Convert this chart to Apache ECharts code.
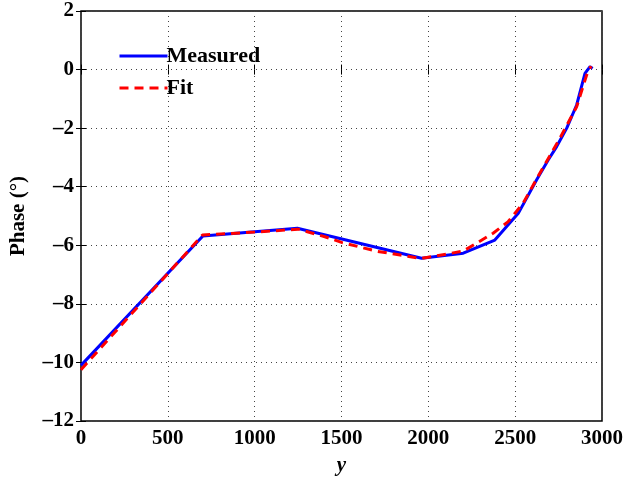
<!DOCTYPE html>
<html>
<head>
<meta charset="utf-8">
<script src="https://cdn.jsdelivr.net/npm/echarts@6/dist/echarts.min.js"></script>
<style>
  html, body { margin: 0; padding: 0; background: #fff; }
  #chart { width: 627px; height: 483px; }
</style>
</head>
<body>
<div id="chart"></div>
<script>
// values
var measuredX = [0, 702, 1246, 1961, 2201, 2383, 2518, 2623, 2691, 2739, 2797, 2854, 2902, 2931, 2946]
var measuredY = [-10.1, -5.68, -5.42, -6.44, -6.27, -5.82, -4.91, -3.77, -3.08, -2.63, -2.0, -1.21, -0.13, 0.1, 0.04]
var fitX = [0, 700, 1000, 1250, 1400, 1500, 1700, 1960, 2201, 2373, 2460, 2546, 2642, 2758, 2854, 2912, 2937]
var fitY = [-10.25, -5.65, -5.55, -5.45, -5.7, -5.9, -6.2, -6.45, -6.2, -5.59, -5.19, -4.56, -3.54, -2.34, -1.27, -0.18, 0.12]

var font = 'Liberation Serif'

function pairs (xs, ys) {
  return xs.map(function (x, i) { return [x, ys[i]] })
}
function minus (v) {
  return String(v).replace('-', '\u2013')
}

var chart = echarts.init(document.getElementById('chart'))
var option = {
  animation: false,
  backgroundColor: '#fff',
  grid: {
    left: 81, right: 25, top: 11, bottom: 62,
    show: true, borderColor: '#000', borderWidth: 1.5
  },
  legend: {
    orient: 'vertical',
    left: 113,
    top: 40,
    itemWidth: 48,
    itemHeight: 14,
    itemGap: 10,
    itemStyle: { opacity: 0 },
    lineStyle: { width: 3 },
    textStyle: { fontFamily: font, fontWeight: 'bold', fontSize: 22, color: '#000', padding: [0, 0, 0, -6] },
    data: ['Measured', 'Fit']
  },
  xAxis: [{
    type: 'value',
    min: 0, max: 3000, interval: 500,
    name: 'y',
    nameLocation: 'middle',
    nameGap: 34,
    nameTextStyle: { fontFamily: font, fontWeight: 'bold', fontStyle: 'italic', fontSize: 21, color: '#000' },
    axisLine: { show: false },
    axisTick: { inside: true, length: 5, lineStyle: { color: '#000' } },
    axisLabel: { fontFamily: font, fontWeight: 'bold', fontSize: 21, color: '#000', margin: 7, formatter: function (v) { return String(v) } },
    splitLine: { show: true, lineStyle: { color: '#444', type: [1, 4], width: 1 } }
  }, {
    type: 'value',
    position: 'top',
    min: 0, max: 3000, interval: 500,
    axisLine: { show: false },
    axisTick: { inside: true, length: 5, lineStyle: { color: '#000' } },
    axisLabel: { show: false },
    splitLine: { show: false }
  }],
  yAxis: [{
    type: 'value',
    min: -12, max: 2, interval: 2,
    name: 'Phase (\u00b0)',
    nameLocation: 'middle',
    nameRotate: 90,
    nameGap: 52,
    nameTextStyle: { fontFamily: font, fontWeight: 'bold', fontSize: 21, color: '#000' },
    axisLine: { show: false },
    axisTick: { inside: true, length: 5, lineStyle: { color: '#000' } },
    axisLabel: { fontFamily: font, fontWeight: 'bold', fontSize: 21, color: '#000', margin: 7, formatter: minus },
    splitLine: { show: true, lineStyle: { color: '#444', type: [1, 4], width: 1 } }
  }, {
    type: 'value',
    position: 'right',
    min: -12, max: 2, interval: 2,
    axisLine: { show: false },
    axisTick: { inside: true, length: 5, lineStyle: { color: '#000' } },
    axisLabel: { show: false },
    splitLine: { show: false }
  }],
  series: [{
    name: 'Measured',
    type: 'line',
    symbol: 'none',
    lineStyle: { color: '#0000ff', width: 3 },
    itemStyle: { color: '#0000ff' },
    data: pairs(measuredX, measuredY)
  }, {
    name: 'Fit',
    type: 'line',
    symbol: 'none',
    lineStyle: { color: '#ff0000', width: 3, type: [9, 6] },
    itemStyle: { color: '#ff0000' },
    data: pairs(fitX, fitY)
  }]
}
chart.setOption(option)
</script>
</body>
</html>
